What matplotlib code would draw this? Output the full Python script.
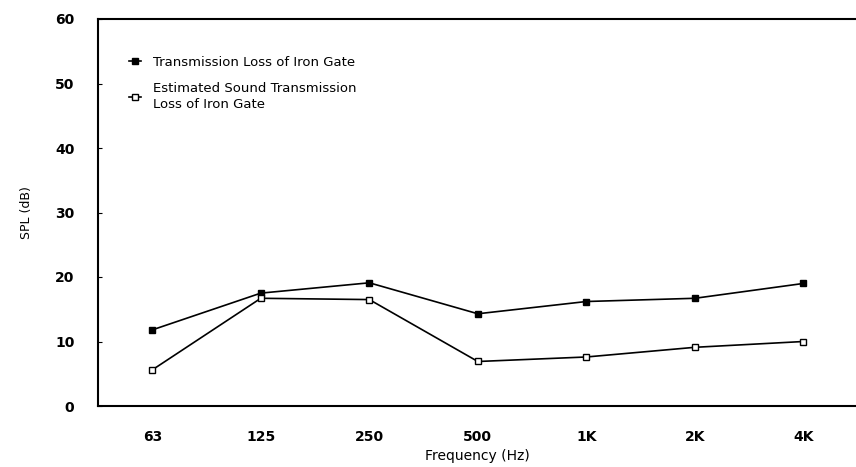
import matplotlib
matplotlib.use("Agg")
import matplotlib.pyplot as plt

categories = ["63", "125", "250", "500", "1K", "2K", "4K"]
measured = [11.8, 17.5, 19.1, 14.3, 16.2, 16.7, 19.0]
estimated = [5.6, 16.7, 16.5, 6.9, 7.6, 9.1, 10.0]
yticks = [0, 10, 20, 30, 40, 50, 60]
label_measured = "Transmission Loss of Iron Gate"
label_estimated = "Estimated Sound Transmission\nLoss of Iron Gate"

plt.rcParams['font.family'] = ['DejaVu Sans']

fig = plt.figure(figsize=(8.56, 4.67), dpi=100)
ax = fig.add_axes([98/856, 1-406/467, 1.0-98/856+0.002, (406-19)/467])

x = list(range(len(categories)))
ax.plot(x, measured, color='black', lw=1.2, marker='s', ms=5,
        mfc='black', mec='black', label=label_measured)
ax.plot(x, estimated, color='black', lw=1.2, marker='s', ms=5,
        mfc='white', mec='black', label=label_estimated)

ax.set_xlim(-0.5, 6.5)
ax.set_ylim(0, 60)
ax.set_xticks(x)
ax.set_xticklabels(categories, fontsize=10, fontweight='bold')
ax.set_yticks(yticks)
ax.set_yticklabels([str(v) for v in yticks], fontsize=10, fontweight='bold')
ax.tick_params(axis='x', length=0, pad=17)
ax.tick_params(axis='y', direction='in', length=3, pad=17)
ax.spines['right'].set_visible(False)
for s in ['left', 'top', 'bottom']:
    ax.spines[s].set_linewidth(1.5)

ax.set_xlabel("Frequency (Hz)", fontsize=10, labelpad=4)
ax.set_ylabel("SPL (dB)", fontsize=9, labelpad=16)

leg = ax.legend(loc='upper left', bbox_to_anchor=(0.025, 0.935), frameon=False,
                prop={'size': 9.5},
                handlelength=0.9, handletextpad=0.9,
                labelspacing=0.95, markerscale=0.9)
for t in leg.get_texts():
    t.set_linespacing(1.35)

fig.savefig("out.png", dpi=100)
